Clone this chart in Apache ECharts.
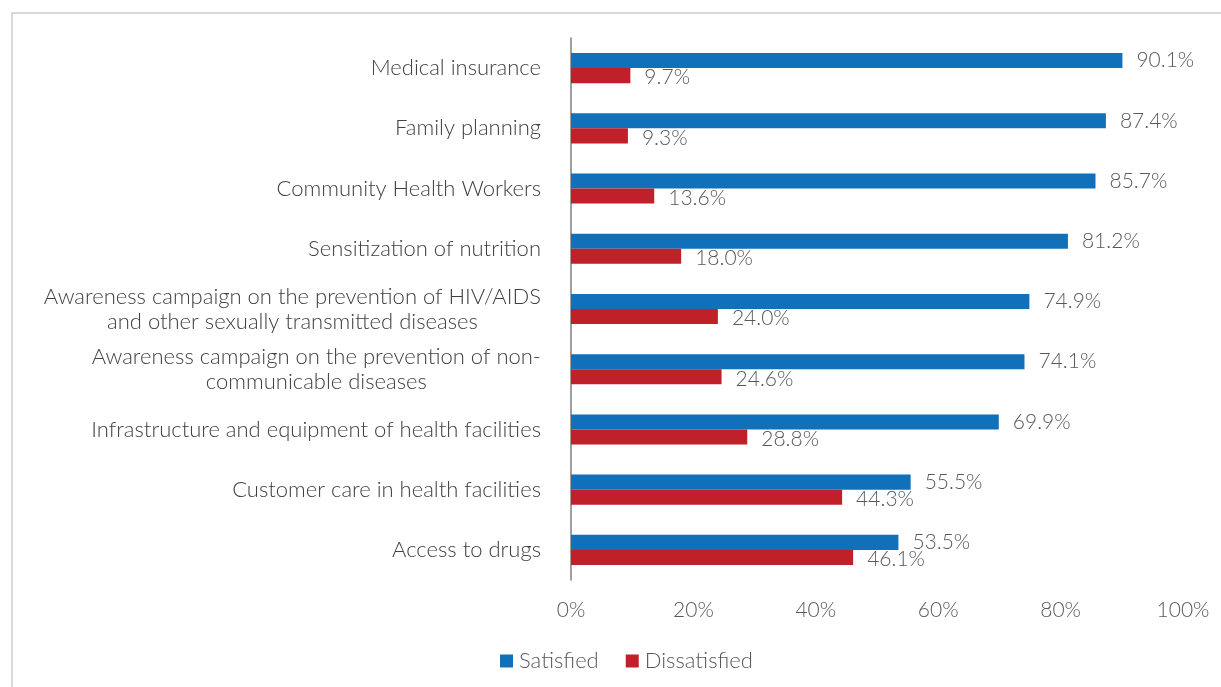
<!DOCTYPE html>
<html><head><meta charset="utf-8">
<script src="https://cdn.jsdelivr.net/npm/echarts@6/dist/echarts.min.js"></script>
<style>html,body{margin:0;padding:0;background:#fff;}#c{width:1221px;height:687px;}</style>
</head><body><div id="c"></div>
<script>
const categories = [
  "Medical insurance",
  "Family planning",
  "Community Health Workers",
  "Sensitization of nutrition",
  "Awareness campaign on the prevention of HIV/AIDS\nand other sexually transmitted diseases",
  "Awareness campaign on the prevention of non-\ncommunicable diseases",
  "Infrastructure and equipment of health facilities",
  "Customer care in health facilities",
  "Access to drugs"
];
const satisfied = [90.1, 87.4, 85.7, 81.2, 74.9, 74.1, 69.9, 55.5, 53.5];
const dissatisfied = [9.7, 9.3, 13.6, 18.0, 24.0, 24.6, 28.8, 44.3, 46.1];
const xTicks = [0, 20, 40, 60, 80, 100];

const FONT = 'Lato';
const chart = echarts.init(document.getElementById('c'), null, {renderer: 'canvas'});
const lbl = {
  show: true, position: 'right', distance: 14,
  fontFamily: FONT, fontWeight: 300, fontSize: 21, color: '#595959',
  formatter: p => p.value.toFixed(1) + '%'
};
chart.setOption({
  animation: false,
  backgroundColor: '#fff',
  textStyle: {fontFamily: FONT},
  graphic: [{
    type: 'rect', shape: {x: 12, y: 13, width: 1300, height: 800},
    style: {fill: 'none', stroke: '#d9d9d9', lineWidth: 2}, silent: true, z: -10
  }],
  legend: {
    data: ['Satisfied', 'Dissatisfied'],
    left: 495, top: 645,
    itemWidth: 13, itemHeight: 13, itemGap: 27, icon: 'rect',
    textStyle: {fontFamily: FONT, fontWeight: 300, fontSize: 22, color: '#595959', padding: [0, 0, 0, 1]}
  },
  grid: {left: 571, right: 38, top: 38, bottom: 107, containLabel: false},
  xAxis: {
    type: 'value', min: 0, max: 100, interval: 20,
    axisLine: {show: false}, axisTick: {show: false}, splitLine: {show: false},
    axisLabel: {
      margin: 20, fontFamily: FONT, fontWeight: 300, fontSize: 21, color: '#595959',
      formatter: v => xTicks.includes(v) ? v + '%' : ''
    }
  },
  yAxis: {
    type: 'category', data: categories, inverse: true,
    axisLine: {show: true, lineStyle: {color: '#7f7f7f', width: 1.5}},
    axisTick: {show: false},
    axisLabel: {
      margin: 30, fontFamily: FONT, fontWeight: 300, fontSize: 22, color: '#404040',
      lineHeight: 25,
      formatter: v => v.split('\n').map(s => '{c|' + s + '}').join('\n'),
      rich: {c: {align: 'center', fontFamily: FONT, fontWeight: 300, fontSize: 22, color: '#404040', lineHeight: 25}}
    }
  },
  series: [
    {name: 'Satisfied', type: 'bar', data: satisfied, barGap: '0%', barCategoryGap: '50%',
     itemStyle: {color: '#1170ba'}, label: Object.assign({}, lbl, {offset: [0, 0]})},
    {name: 'Dissatisfied', type: 'bar', data: dissatisfied,
     itemStyle: {color: '#c0202a'}, label: Object.assign({}, lbl, {offset: [0, 2]})}
  ]
});
</script></body></html>
